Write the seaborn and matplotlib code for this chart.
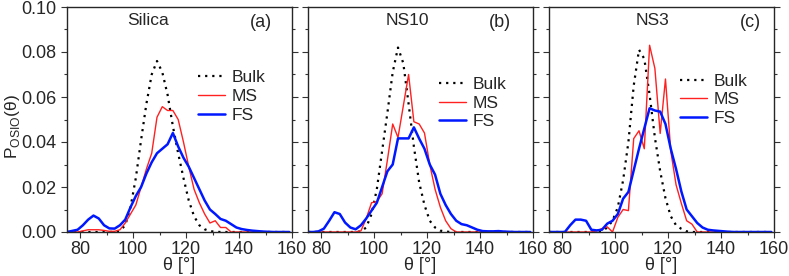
import numpy as np
import pandas as pd
import seaborn as sns
import matplotlib.pyplot as plt
from matplotlib.ticker import MultipleLocator

# bin centres (2 degree bins, 75..159)
theta = list(range(75, 161, 2))

# Silica
silica_bulk = [0, 0, 0, 0, 0, 0, 0, 0, 0, 0.0001, 0.0005, 0.003, 0.011, 0.024, 0.041,
               0.057, 0.070, 0.076, 0.071, 0.061, 0.047, 0.035, 0.024, 0.014, 0.007,
               0.003, 0.0012, 0.0004, 0.0001, 0, 0, 0, 0, 0, 0, 0, 0, 0, 0, 0, 0, 0, 0]
silica_ms = [0, 0, 0, 0.0005, 0.001, 0.001, 0.001, 0.0007, 0.0003, 0.0003, 0.001, 0.004,
             0.008, 0.012, 0.020, 0.028, 0.035, 0.051, 0.0557, 0.054, 0.054, 0.050, 0.040,
             0.029, 0.019, 0.013, 0.008, 0.004, 0.005, 0.002, 0.002, 0, 0, 0, 0, 0, 0, 0,
             0, 0, 0, 0, 0]
silica_fs = [0, 0.0005, 0.001, 0.003, 0.0055, 0.0073, 0.006, 0.003, 0.0016, 0.0015, 0.003,
             0.0055, 0.011, 0.016, 0.020, 0.026, 0.031, 0.035, 0.037, 0.039, 0.044, 0.038,
             0.033, 0.029, 0.024, 0.019, 0.014, 0.010, 0.008, 0.0058, 0.005, 0.0035, 0.002,
             0.0013, 0.0009, 0.0006, 0.0004, 0.0002, 0.0001, 0, 0, 0, 0]

# NS10
ns10_bulk = [0, 0, 0, 0, 0, 0, 0, 0, 0, 0, 0.0003, 0.002, 0.008, 0.019, 0.036, 0.053,
             0.071, 0.082, 0.075, 0.057, 0.038, 0.022, 0.012, 0.005, 0.002, 0.0006,
             0.0002, 0, 0, 0, 0, 0, 0, 0, 0, 0, 0, 0, 0, 0, 0, 0, 0]
ns10_ms = [0, 0, 0, 0, 0, 0, 0, 0, 0, 0, 0.0005, 0.006, 0.013, 0.0135, 0.017, 0.032,
           0.048, 0.042, 0.056, 0.070, 0.049, 0.048, 0.044, 0.030, 0.019, 0.011, 0.005,
           0.0015, 0, 0, 0, 0, 0, 0, 0, 0, 0, 0, 0, 0, 0, 0, 0]
ns10_fs = [0, 0, 0.0003, 0.0015, 0.005, 0.0088, 0.008, 0.0042, 0.002, 0.0012, 0.003,
           0.006, 0.0095, 0.013, 0.020, 0.027, 0.030, 0.0416, 0.0416, 0.0416, 0.0465,
           0.0415, 0.037, 0.030, 0.0255, 0.017, 0.012, 0.008, 0.005, 0.0035, 0.003,
           0.002, 0.001, 0.0004, 0.0003, 0.0003, 0.0004, 0.0002, 0.0001, 0, 0, 0, 0]

# NS3
ns3_bulk = [0, 0, 0, 0, 0, 0, 0, 0, 0, 0, 0.0003, 0.002, 0.005, 0.011, 0.023, 0.040,
            0.065, 0.081, 0.077, 0.061, 0.042, 0.027, 0.015, 0.007, 0.003, 0.0014,
            0.0003, 0, 0, 0, 0, 0, 0, 0, 0, 0, 0, 0, 0, 0, 0, 0, 0]
ns3_ms = [0, 0, 0, 0, 0, 0, 0, 0, 0, 0.0005, 0.0015, 0.0023, 0.0, 0.0065, 0.010, 0.0095,
          0.0415, 0.045, 0.037, 0.083, 0.0727, 0.0438, 0.068, 0.036, 0.021, 0.0127,
          0.005, 0.0035, 0, 0, 0, 0, 0, 0, 0, 0, 0, 0, 0, 0, 0, 0, 0]
ns3_fs = [0, 0, 0, 0, 0.003, 0.0055, 0.0055, 0.005, 0.001, 0.0007, 0.001, 0.0037, 0.005,
          0.008, 0.0148, 0.0178, 0.0274, 0.037, 0.046, 0.055, 0.054, 0.0535, 0.048,
          0.037, 0.028, 0.018, 0.010, 0.007, 0.004, 0.002, 0.001, 0.0007, 0.0005,
          0.0003, 0.0001, 0, 0, 0, 0, 0, 0, 0, 0]

panels = [
    ("Silica", "(a)", silica_bulk, silica_ms, silica_fs),
    ("NS10", "(b)", ns10_bulk, ns10_ms, ns10_fs),
    ("NS3", "(c)", ns3_bulk, ns3_ms, ns3_fs),
]
title_x = [0.36, 0.44, 0.46]
tag_x = [0.86, 0.855, 0.895]
legend_y = [0.75, 0.72, 0.735]

sns.set_style("ticks")
plt.rcParams["font.family"] = ["Liberation Sans", "DejaVu Sans"]
plt.rcParams["mathtext.fontset"] = "custom"
plt.rcParams["mathtext.rm"] = "Liberation Sans"

fig = plt.figure(figsize=(7.89, 2.76), dpi=100)
lefts = [67 / 789, 308 / 789, 549 / 789]
axes = [fig.add_axes([l, 1 - 232 / 276, 225 / 789, 225 / 276]) for l in lefts]

for i, (ax, (name, tag, bulk, ms, fs)) in enumerate(zip(axes, panels)):
    df = pd.DataFrame({"theta": theta, "Bulk": bulk, "MS": ms, "FS": fs})
    sns.lineplot(data=df, x="theta", y="Bulk", ax=ax, color="black",
                 linestyle=(0, (1, 2.2)), linewidth=1.6, label="Bulk")
    sns.lineplot(data=df, x="theta", y="MS", ax=ax, color="#ff2020",
                 linewidth=1.0, label="MS")
    sns.lineplot(data=df, x="theta", y="FS", ax=ax, color="#0018ff",
                 linewidth=1.8, label="FS")
    ax.set_xlim(75, 160)
    ax.set_ylim(0, 0.1)
    ax.xaxis.set_major_locator(MultipleLocator(20))
    ax.xaxis.set_minor_locator(MultipleLocator(10))
    ax.yaxis.set_major_locator(MultipleLocator(0.02))
    ax.yaxis.set_minor_locator(MultipleLocator(0.01))
    ax.tick_params(which="both", direction="out", left=True, right=True,
                   top=False, bottom=True, labelsize=13, width=0.8, color="#333333")
    ax.tick_params(which="major", length=4)
    ax.tick_params(which="minor", length=2)
    ax.tick_params(axis="x", pad=2.5)
    ax.yaxis.set_major_formatter(plt.FuncFormatter(lambda v, p: f"{v:.2f}"))
    for s in ax.spines.values():
        s.set_linewidth(1.0)
        s.set_visible(True)
    ax.set_xlabel("θ [°]", fontsize=13, labelpad=-1)
    if i == 0:
        ax.set_ylabel(r"P$_{\mathregular{OSIO}}$(θ)", fontsize=12.5)
        ax.yaxis.set_label_coords(-0.2, 0.47)
    else:
        ax.set_ylabel("")
        ax.tick_params(labelleft=False)
    ax.text(title_x[i], 0.94, name, transform=ax.transAxes, ha="center",
            va="center", fontsize=12.5)
    ax.text(tag_x[i], 0.93, tag, transform=ax.transAxes, ha="center",
            va="center", fontsize=13)
    ax.legend(loc="upper left", bbox_to_anchor=(0.55, legend_y[i]), frameon=False,
              fontsize=12.5, handlelength=1.6, handletextpad=0.35,
              labelspacing=0.2, borderaxespad=0)

fig.savefig("out.png", dpi=100)
